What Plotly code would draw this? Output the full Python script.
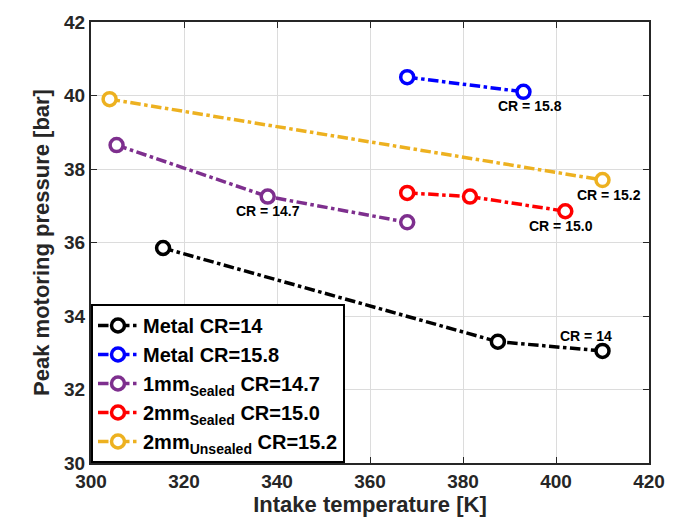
import plotly.graph_objects as go

metal14_x = [315.5, 387.5, 410]
metal14_y = [35.85, 33.3, 33.05]
metal158_x = [368, 393]
metal158_y = [40.5, 40.1]
s1mm_x = [305.5, 338, 368]
s1mm_y = [38.65, 37.25, 36.55]
s2mm_x = [368, 381.5, 402]
s2mm_y = [37.35, 37.25, 36.85]
u2mm_x = [304, 410]
u2mm_y = [39.9, 37.7]

x_ticks = [300, 320, 340, 360, 380, 400, 420]
y_ticks = [30, 32, 34, 36, 38, 40, 42]

names = ["Metal CR=14", "Metal CR=15.8", "1mm<sub>Sealed</sub> CR=14.7",
         "2mm<sub>Sealed</sub> CR=15.0", "2mm<sub>Unsealed</sub> CR=15.2"]
colors = ["#000000", "#0000FF", "#7E2F8E", "#FF0000", "#EDB120"]
series = [(metal14_x, metal14_y), (metal158_x, metal158_y), (s1mm_x, s1mm_y),
          (s2mm_x, s2mm_y), (u2mm_x, u2mm_y)]

ann_text = ["CR = 14", "CR = 15.8", "CR = 14.7", "CR = 15.0", "CR = 15.2"]
ann_x = [406.5, 394.5, 338, 401, 411.5]
ann_y = [33.45, 39.72, 36.85, 36.45, 37.3]

FONT = "Liberation Sans"
fig = go.Figure()
for (x, y), n, c in zip(series, names, colors):
    fig.add_trace(go.Scatter(x=x, y=y, mode="lines+markers", name="<b>" + n + "</b>",
                             line=dict(color=c, width=3.5, dash="dashdot"),
                             marker=dict(symbol="circle", size=13, color="white",
                                         line=dict(color=c, width=3.5))))
for t, x, y in zip(ann_text, ann_x, ann_y):
    fig.add_annotation(x=x, y=y, text="<b>" + t + "</b>", showarrow=False,
                       font=dict(family=FONT, size=14, color="black"))

axis_common = dict(showgrid=True, gridcolor="#DCDCDC", gridwidth=1, showline=True,
                   linecolor="#262626", linewidth=2, mirror="ticks", ticks="inside",
                   ticklen=6, tickcolor="#262626", zeroline=False,
                   tickfont=dict(family=FONT, size=19, color="#262626"))
fig.update_xaxes(range=[300, 420], tickvals=x_ticks,
                 ticktext=["<b>%d</b>" % v for v in x_ticks],
                 title=dict(text="<b>Intake temperature [K]</b>", standoff=6,
                            font=dict(family=FONT, size=22, color="#262626")),
                 **axis_common)
fig.update_yaxes(range=[30, 42], tickvals=y_ticks,
                 ticktext=["<b>%d</b>" % v for v in y_ticks],
                 title=dict(text="<b>Peak motoring pressure [bar]</b>", standoff=8,
                            font=dict(family=FONT, size=22, color="#262626")),
                 **axis_common)
fig.update_layout(width=677, height=527, plot_bgcolor="white", paper_bgcolor="white",
                  margin=dict(l=91, r=17, t=15, b=64),
                  font=dict(family=FONT, size=17, color="black"),
                  legend=dict(x=0, y=0, xanchor="left", yanchor="bottom",
                              bgcolor="white", bordercolor="black", borderwidth=2,
                              font=dict(family=FONT, size=20, color="black"),
                              tracegroupgap=0, itemwidth=40))
fig.write_html("out.html")
